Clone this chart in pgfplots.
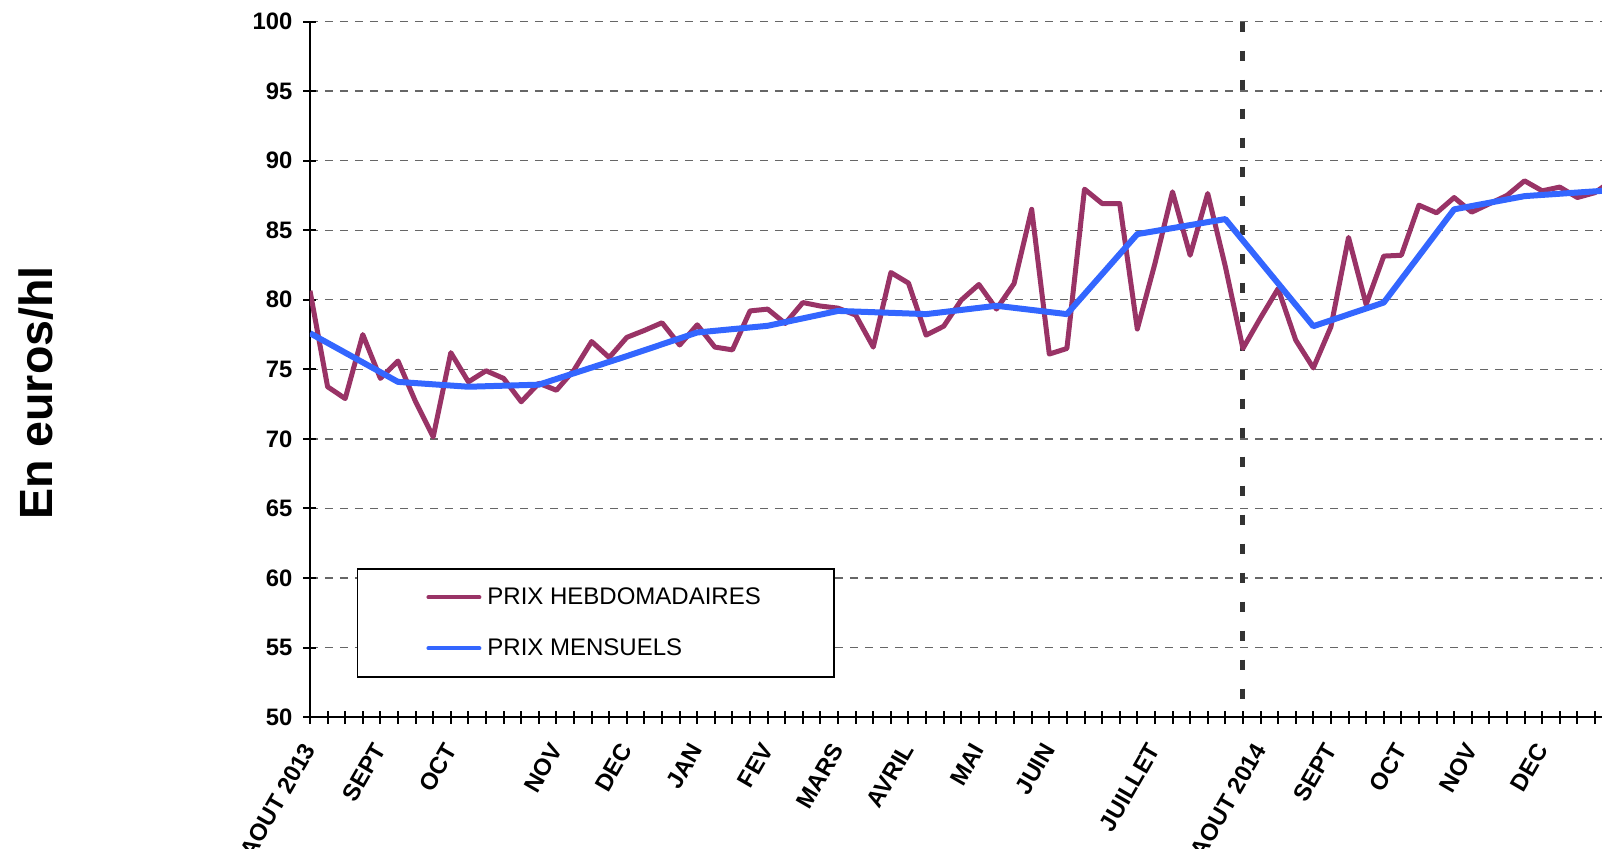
\documentclass[border=0pt]{standalone}
\usepackage{pgfplots}
\pgfplotsset{compat=1.18}
\usepackage{fontspec}
\setmainfont{Liberation Sans}
\definecolor{hebdo}{HTML}{993366}
\definecolor{mens}{HTML}{3366FF}
\definecolor{vdash}{HTML}{333333}
\begin{document}
\begin{tikzpicture}
\useasboundingbox (-155pt,-65.4pt) rectangle (646pt,358.6pt);
\begin{axis}[
  at={(0,0)}, anchor=south west,
  scale only axis, width=646pt, height=347.85pt,
  xmin=0, xmax=73.4, ymin=50, ymax=100,
  axis x line=bottom, axis y line=left,
  axis line style={-, line width=1pt, black},
  tick style={black, line width=1pt},
  major tick length=6.5pt, minor tick length=6.5pt, tick align=center,
  ytick={50,55,...,100},
  xtick={0,4,8,14,18,22,26,30,34,38,42,48,54,58,62,66,70},
  xticklabels={AOUT 2013,SEPT,OCT,NOV,DEC,JAN,FEV,MARS,AVRIL,MAI,JUIN,JUILLET,AOUT 2014,SEPT,OCT,NOV,DEC},
  minor xtick={0,...,73},
  ymajorgrids=true,
  major grid style={black!60, line width=0.6pt, dash pattern=on 4pt off 3.5pt},
  /pgf/number format/assume math mode=true,
  ticklabel style={font=\bfseries\fontsize{11.9}{14}\selectfont},
  yticklabel style={xshift=-2pt},
  xticklabel style={yshift=-8.5pt, xshift=-4pt, rotate=60, anchor=north east, inner sep=0pt},
  ylabel={En euros/hl},
  ylabel style={at={(axis description cs:-0.2121,0.466)}, anchor=center, font=\bfseries\fontsize{23.3}{27}\selectfont},
  legend style={at={(axis description cs:0.0361,0.2145)}, anchor=north west, draw=black, line width=0.8pt,
    inner xsep=34.5pt, inner ysep=1.5pt, row sep=0pt, column sep=1pt,
    font=\fontsize{12}{14}\selectfont,
    nodes={minimum height=25.5pt, inner sep=2pt}},
  legend cell align=left,
  legend image code/.code={\draw[#1, line width=2pt, line cap=round] (0pt,0pt) -- (25.5pt,0pt);},
]
\addplot[forget plot, vdash, line width=2.5pt, dash pattern=on 5pt off 9.5pt] coordinates {(53,100) (53,50)};
\addplot[hebdo, line width=2.5pt, line join=round] coordinates {
(0,80.65) (1,73.75) (2,72.9) (3,77.5) (4,74.35) (5,75.6) (6,72.67) (7,70.15) (8,76.2) (9,74.1)
(10,74.9) (11,74.35) (12,72.67) (13,74.0) (14,73.5) (15,74.95) (16,77.0) (17,75.85) (18,77.3) (19,77.8)
(20,78.35) (21,76.75) (22,78.2) (23,76.6) (24,76.4) (25,79.2) (26,79.33) (27,78.3) (28,79.8) (29,79.55)
(30,79.4) (31,78.9) (32,76.6) (33,81.96) (34,81.2) (35,77.46) (36,78.1) (37,79.98) (38,81.1) (39,79.33)
(40,81.17) (41,86.5) (42,76.1) (43,76.5) (44,87.95) (45,86.92) (46,86.92) (47,77.9) (48,82.6) (49,87.76)
(50,83.2) (51,87.64) (52,82.4) (53,76.5) (54,78.7) (55,80.8) (56,77.1) (57,75.1) (58,78.06) (59,84.48)
(60,79.66) (61,83.14) (62,83.2) (63,86.8) (64,86.25) (65,87.35) (66,86.3) (67,86.9) (68,87.5) (69,88.55)
(70,87.83) (71,88.1) (72,87.35) (73,87.7) (74,88.6)
};
\addlegendentry{PRIX HEBDOMADAIRES}
\addplot[mens, line width=3pt, line join=round] coordinates {
(0,77.6) (5,74.1) (9,73.75) (13,73.9) (18,75.95) (22,77.65) (26,78.13) (30,79.2) (35,78.97) (39,79.57)
(43,78.97) (47,84.72) (52,85.8) (57,78.1) (61,79.8) (65,86.5) (69,87.45) (74,87.88)
};
\addlegendentry{PRIX MENSUELS}
\end{axis}
\end{tikzpicture}
\end{document}
